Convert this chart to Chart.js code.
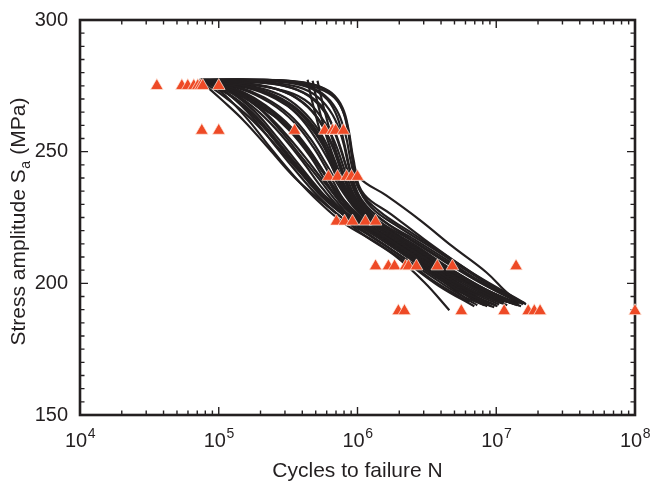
<!DOCTYPE html>
<html>
<head>
<meta charset="utf-8">
<script src="https://cdn.jsdelivr.net/npm/chart.js@4.4.0/dist/chart.umd.min.js"></script>
<style>
body{margin:0;background:#fff;}
#wrap{width:650px;height:486px;}
</style>
</head>
<body>
<div id="wrap"><canvas id="sn" width="650" height="486"></canvas></div>
<script>
/******************************** data ********************************/
// fatigue tests: stress levels (MPa) and cycles to failure at each level
const testStress = [275, 258, 240.5, 223.5, 206.5, 189.5];
const cycles275 = [3.58e4, 5.42e4, 5.98e4, 6.61e4, 7.06e4, 7.4e4, 7.67e4, 1.0e5];
const cycles258 = [7.55e4, 1.0e5, 3.52e5, 5.8e5, 6.61e5, 6.95e5, 7.92e5];
const cycles241 = [6.18e5, 7.18e5, 8.34e5, 9.06e5, 1.0e6];
const cycles224 = [7.05e5, 8.06e5, 9.2e5, 1.14e6, 1.35e6];
const cycles207 = [1.35e6, 1.67e6, 1.85e6, 2.22e6, 2.33e6, 2.66e6, 3.76e6, 4.83e6, 1.39e7];
const cycles190 = [1.97e6, 2.18e6, 5.6e6, 1.14e7, 1.70e7, 1.88e7, 2.07e7, 1.0e8];
const testCycles = [cycles275, cycles258, cycles241, cycles224, cycles207, cycles190];

// simulated S-N curves, [cycles, stress]
const curve01 = [[7.30e4,277.3],[1.67e5,277.3],[3.24e5,276.9],[4.90e5,275.4],[6.50e5,272.3],[7.80e5,266.7],[8.62e5,258.3],[9.36e5,247.0],[1.03e6,240.2],[1.62e6,233.3],[2.79e6,224.2],[4.83e6,214.0],[8.47e6,204.2],[1.24e7,195.8],[1.64e7,192.0]];
const curve02 = [[7.55e4,277.3],[1.67e5,276.9],[3.24e5,276.1],[4.67e5,273.9],[6.08e5,269.7],[7.18e5,262.9],[8.06e5,252.7],[9.05e5,241.3],[1.07e6,231.8],[1.56e6,223.5],[2.79e6,214.8],[4.99e6,206.4],[8.91e6,198.9],[1.51e7,192.4]];
const curve03 = [[7.80e4,276.9],[1.54e5,276.5],[2.98e5,275.0],[4.37e5,271.6],[5.79e5,265.9],[6.95e5,256.4],[8.20e5,245.1],[9.83e5,233.7],[1.39e6,224.2],[2.37e6,216.7],[4.23e6,208.3],[7.55e6,200.4],[1.35e7,193.6]];
const curve04 = [[7.93e4,276.9],[1.42e5,276.1],[2.53e5,273.9],[3.83e5,269.7],[5.15e5,262.9],[6.50e5,252.7],[7.80e5,241.3],[9.67e5,230.7],[1.44e6,222.3],[2.45e6,214.4],[4.37e6,206.1],[7.55e6,198.5],[1.24e7,193.2]];
const curve05 = [[8.06e4,276.5],[1.42e5,275.4],[2.33e5,272.3],[3.52e5,267.0],[4.90e5,259.1],[6.29e5,248.9],[7.93e5,237.5],[1.03e6,228.0],[1.62e6,219.7],[2.79e6,212.1],[4.99e6,203.8],[8.91e6,196.2],[1.42e7,191.7]];
const curve06 = [[8.20e4,276.5],[1.37e5,274.6],[2.14e5,270.5],[3.24e5,264.0],[4.52e5,255.3],[5.98e5,245.1],[7.80e5,234.8],[1.07e6,225.8],[1.76e6,217.8],[3.03e6,209.8],[5.42e6,201.5],[9.67e6,194.7],[1.46e7,191.7]];
const curve07 = [[8.33e4,276.1],[1.30e5,273.9],[1.97e5,268.6],[2.98e5,261.0],[4.16e5,251.9],[5.60e5,242.4],[7.42e5,232.6],[1.03e6,224.2],[1.70e6,216.7],[3.03e6,208.0],[5.42e6,199.6],[1.05e7,192.8]];
const curve08 = [[8.47e4,276.1],[1.30e5,273.1],[1.91e5,267.0],[2.75e5,258.3],[3.83e5,248.9],[5.33e5,239.4],[7.18e5,230.7],[1.00e6,222.7],[1.64e6,215.2],[2.89e6,206.4],[5.07e6,198.1],[8.91e6,192.4]];
const curve09 = [[8.62e4,275.8],[1.26e5,272.0],[1.82e5,265.2],[2.61e5,255.7],[3.64e5,246.2],[5.15e5,236.4],[7.18e5,228.0],[1.03e6,221.2],[1.76e6,212.9],[3.03e6,204.5],[5.42e6,195.8],[8.20e6,191.7]];
const curve10 = [[8.91e4,275.8],[1.24e5,270.8],[1.73e5,263.3],[2.45e5,253.4],[3.52e5,243.2],[5.15e5,233.3],[7.67e5,225.0],[1.18e6,218.6],[2.01e6,210.6],[3.41e6,201.5],[6.39e6,192.8]];
const curve11 = [[9.05e4,275.4],[1.20e5,269.7],[1.67e5,261.4],[2.41e5,250.8],[3.52e5,240.5],[5.33e5,230.7],[8.06e5,222.7],[1.33e6,215.9],[2.25e6,208.0],[3.89e6,198.9],[6.95e6,191.3]];
const curve12 = [[7.67e4,276.1],[1.05e5,269.7],[1.54e5,261.4],[2.33e5,250.8],[3.52e5,240.2],[5.33e5,231.8],[7.67e5,225.0],[1.12e6,218.2],[1.85e6,210.6],[3.03e6,200.4],[4.59e6,189.8]];
const curve13 = [[4.37e5,277.3],[4.59e5,271.6],[4.99e5,264.0],[5.60e5,254.5],[6.61e5,243.9],[8.20e5,233.7],[1.12e6,225.0],[1.85e6,216.7],[3.30e6,208.0],[5.89e6,199.6],[1.14e7,192.4]];
const curve14 = [[5.15e5,276.9],[5.42e5,271.6],[5.89e5,264.0],[6.61e5,254.5],[7.67e5,243.9],[9.20e5,233.7],[1.22e6,225.0],[2.01e6,217.4],[3.58e6,209.1],[6.39e6,200.8],[1.28e7,193.2]];
const curve15 = [[7.30e4,277.3],[1.82e5,277.3],[3.52e5,276.5],[5.15e5,274.2],[6.83e5,270.5],[8.06e5,264.0],[8.76e5,254.5],[9.51e5,243.2],[1.12e6,233.7],[1.76e6,226.1],[3.03e6,216.7],[5.42e6,207.2],[9.67e6,198.5],[1.56e7,192.0]];
const curve16 = [[8.06e4,276.9],[1.54e5,275.8],[2.75e5,273.5],[4.16e5,269.7],[5.51e5,262.9],[6.83e5,253.8],[8.06e5,243.2],[9.67e5,232.6],[1.33e6,223.5],[2.18e6,215.9],[3.89e6,207.2],[6.95e6,199.2],[1.28e7,192.4]];
const curve17 = [[8.62e4,276.5],[1.67e5,275.0],[2.75e5,271.6],[3.95e5,265.9],[5.33e5,257.6],[6.72e5,247.0],[8.20e5,236.4],[1.07e6,227.3],[1.70e6,219.3],[2.89e6,211.0],[5.15e6,202.7],[9.67e6,195.1],[1.51e7,191.3]];
const curve18 = [[8.20e4,276.9],[1.54e5,275.0],[2.53e5,270.8],[3.70e5,264.0],[5.07e5,254.5],[6.61e5,243.9],[8.47e5,233.3],[1.18e6,224.2],[1.94e6,216.3],[3.30e6,208.3],[5.89e6,200.4],[1.14e7,192.8]];
const curve19 = [[8.76e4,276.1],[1.42e5,272.7],[2.14e5,267.4],[3.08e5,259.8],[4.37e5,250.8],[5.89e5,240.9],[7.93e5,231.8],[1.14e6,223.5],[1.88e6,215.2],[3.30e6,206.8],[5.98e6,197.7],[1.05e7,192.0]];
const curve20 = [[8.47e4,276.1],[1.35e5,272.0],[2.04e5,265.9],[2.94e5,257.6],[4.16e5,248.1],[5.79e5,238.3],[8.06e5,229.2],[1.22e6,221.2],[2.07e6,213.3],[3.58e6,204.5],[6.39e6,195.8],[1.02e7,191.3]];
const curve21 = [[7.93e4,276.5],[1.20e5,271.6],[1.76e5,264.8],[2.53e5,255.3],[3.64e5,245.1],[5.33e5,234.8],[7.93e5,226.5],[1.22e6,219.7],[2.11e6,211.4],[3.70e6,202.7],[6.72e6,194.3],[9.67e6,190.9]];
const curve22 = [[8.91e4,275.8],[1.42e5,271.6],[2.14e5,265.9],[3.24e5,259.1],[4.52e5,250.0],[6.08e5,240.2],[8.20e5,230.3],[1.18e6,221.9],[2.01e6,214.4],[3.46e6,206.1],[6.19e6,197.7],[1.20e7,191.7]];
const curve23 = [[7.42e4,277.3],[1.97e5,277.3],[3.83e5,275.8],[5.51e5,272.3],[7.06e5,265.9],[8.20e5,256.4],[9.05e5,245.1],[1.03e6,235.6],[1.44e6,227.3],[2.37e6,219.7],[4.23e6,211.0],[7.55e6,202.3],[1.35e7,194.7],[1.62e7,192.4]];
const curve24 = [[7.67e4,276.9],[1.82e5,276.5],[3.35e5,274.2],[4.83e5,269.7],[6.29e5,262.1],[7.55e5,251.5],[8.76e5,240.2],[1.07e6,229.9],[1.56e6,221.9],[2.70e6,214.0],[4.75e6,205.3],[8.62e6,197.3],[1.46e7,192.0]];
const curve25 = [[7.80e4,276.9],[1.67e5,275.8],[2.98e5,272.7],[4.37e5,267.0],[5.69e5,259.1],[7.06e5,248.9],[8.47e5,237.5],[1.09e6,228.0],[1.64e6,220.5],[2.79e6,212.9],[4.99e6,204.5],[8.91e6,197.0],[1.42e7,192.4]];
const curve26 = [[8.06e4,276.5],[1.54e5,274.6],[2.66e5,270.5],[3.95e5,264.0],[5.33e5,255.3],[6.72e5,245.1],[8.33e5,234.5],[1.12e6,225.8],[1.82e6,218.2],[3.19e6,209.8],[5.60e6,201.5],[1.02e7,194.7],[1.37e7,192.0]];
const curve27 = [[8.20e4,276.5],[1.42e5,273.9],[2.33e5,268.6],[3.52e5,261.0],[4.83e5,251.5],[6.29e5,241.3],[8.06e5,231.4],[1.14e6,223.5],[1.88e6,215.9],[3.30e6,207.6],[5.89e6,198.9],[1.10e7,192.4]];
const curve28 = [[8.33e4,276.1],[1.37e5,272.7],[2.11e5,266.7],[3.19e5,258.3],[4.52e5,248.5],[5.98e5,238.3],[8.06e5,228.8],[1.18e6,221.9],[2.01e6,214.0],[3.46e6,205.3],[6.19e6,196.6],[1.00e7,191.7]];
const curve29 = [[8.47e4,276.1],[1.33e5,271.6],[1.97e5,264.8],[2.89e5,255.7],[4.09e5,245.8],[5.60e5,236.0],[7.93e5,227.3],[1.22e6,220.5],[2.11e6,212.1],[3.70e6,203.4],[6.72e6,194.7],[9.20e6,191.3]];
const curve30 = [[8.76e4,275.8],[1.28e5,270.5],[1.85e5,262.9],[2.66e5,253.0],[3.83e5,242.8],[5.51e5,233.0],[8.20e5,225.4],[1.30e6,218.6],[2.21e6,210.6],[3.89e6,201.5],[7.18e6,193.2],[8.62e6,191.3]];
const curve31 = [[7.30e4,277.3],[2.14e5,277.3],[4.16e5,276.1],[5.89e5,273.5],[7.42e5,268.2],[8.47e5,259.1],[9.20e5,247.7],[1.00e6,237.5],[1.26e6,228.8],[2.01e6,221.2],[3.58e6,212.9],[6.39e6,204.2],[1.14e7,196.2],[1.59e7,192.4]];
const curve32 = [[7.93e4,276.9],[2.04e5,276.5],[3.70e5,274.6],[5.15e5,270.8],[6.61e5,264.0],[7.80e5,254.5],[8.76e5,243.2],[1.03e6,232.6],[1.49e6,224.2],[2.57e6,216.7],[4.59e6,208.3],[8.20e6,199.6],[1.44e7,192.8]];
const curve33 = [[8.91e4,276.1],[1.62e5,274.2],[2.57e5,270.1],[3.70e5,264.4],[4.99e5,256.8],[6.39e5,247.0],[7.93e5,235.6],[1.03e6,226.9],[1.64e6,218.9],[2.89e6,210.6],[5.15e6,202.3],[9.20e6,195.5],[1.30e7,192.4]];
const curve34 = [[9.05e4,275.8],[1.49e5,272.7],[2.25e5,267.0],[3.30e5,259.5],[4.59e5,250.0],[6.08e5,239.8],[7.80e5,229.9],[1.10e6,222.7],[1.85e6,214.8],[3.19e6,206.1],[5.69e6,197.3],[7.55e6,192.8]];
const curve35 = [[4.75e5,276.9],[4.99e5,271.6],[5.42e5,264.0],[6.08e5,254.5],[7.18e5,243.9],[8.76e5,233.3],[1.18e6,224.6],[1.94e6,216.7],[3.46e6,208.3],[6.19e6,200.0],[1.20e7,192.8]];
const curve36 = [[9.20e4,275.4],[1.33e5,269.7],[1.88e5,262.1],[2.70e5,252.7],[3.89e5,242.8],[5.69e5,233.7],[8.47e5,226.5],[1.35e6,219.7],[2.29e6,212.1],[4.02e6,203.0],[7.30e6,194.7]];
const curve37 = [[7.80e4,276.5],[1.12e5,270.5],[1.64e5,263.3],[2.45e5,253.8],[3.70e5,243.2],[5.51e5,233.3],[8.33e5,226.1],[1.28e6,219.3],[2.18e6,211.7],[3.70e6,202.7],[6.19e6,193.9],[7.30e6,191.7]];
const simCurves = [curve01, curve02, curve03, curve04, curve05, curve06, curve07, curve08, curve09, curve10,
    curve11, curve12, curve13, curve14, curve15, curve16, curve17, curve18, curve19, curve20,
    curve21, curve22, curve23, curve24, curve25, curve26, curve27, curve28, curve29, curve30,
    curve31, curve32, curve33, curve34, curve35, curve36, curve37];

// axis ticks
const yTickValues = [150, 200, 250, 300];
const xTickExponents = [4, 5, 6, 7, 8];

/******************************** style ********************************/
const ink = '#231f20';
const marker = '#ee4a26';
const fontName = '"Liberation Sans", Arial, Helvetica, sans-serif';

/******************************** datasets ********************************/
let testPoints = [];
testStress.forEach((s, i) => {
    testCycles[i].forEach((n) => testPoints.push({x: n, y: s}));
});

let datasets = [{
    label: 'tests',
    data: testPoints,
    pointStyle: 'triangle',
    pointRadius: 7.3,
    backgroundColor: marker,
    borderColor: 'rgba(255,235,225,0.9)',
    borderWidth: 0.8,
    clip: false,
    order: 0
}];
simCurves.forEach((c, i) => {
    datasets.push({
        label: 'curve' + (i + 1),
        data: c.map((p) => ({x: p[0], y: p[1]})),
        showLine: true,
        borderColor: ink,
        borderWidth: 2.2,
        tension: 0.4,
        pointRadius: 0,
        order: 1
    });
});

/******************************** frame, ticks, labels ********************************/
const frame = {
    id: 'frame',
    beforeDatasetsDraw(chart) {
        const {ctx, chartArea: a, scales: {x, y}} = chart;
        ctx.save();
        ctx.strokeStyle = ink;
        ctx.lineWidth = 1.4;
        ctx.beginPath();
        for (let v = 150; v <= 300; v += 5) {
            const py = y.getPixelForValue(v);
            const len = v % 50 === 0 ? 8 : 4.5;
            ctx.moveTo(a.left, py); ctx.lineTo(a.left + len, py);
            ctx.moveTo(a.right, py); ctx.lineTo(a.right - len, py);
        }
        for (let d = 4; d <= 8; d++) {
            for (let m = 1; m <= 9; m++) {
                if (d === 8 && m > 1) break;
                const px = x.getPixelForValue(m * Math.pow(10, d));
                const len = m === 1 ? 8 : 4.5;
                ctx.moveTo(px, a.bottom); ctx.lineTo(px, a.bottom - len);
                ctx.moveTo(px, a.top); ctx.lineTo(px, a.top + len);
            }
        }
        ctx.stroke();
        ctx.lineWidth = 2.6;
        ctx.strokeRect(a.left, a.top, a.right - a.left, a.bottom - a.top);
        ctx.restore();
    },
    afterDraw(chart) {
        const {ctx, chartArea: a, scales: {x, y}} = chart;
        ctx.save();
        ctx.fillStyle = ink;
        // y tick labels
        ctx.font = '20px ' + fontName;
        ctx.textAlign = 'right';
        ctx.textBaseline = 'middle';
        yTickValues.forEach((v) => ctx.fillText(String(v), a.left - 12, y.getPixelForValue(v)));
        // x tick labels 10^n
        ctx.textAlign = 'left';
        ctx.textBaseline = 'alphabetic';
        xTickExponents.forEach((e) => {
            const px = x.getPixelForValue(Math.pow(10, e));
            ctx.font = '20px ' + fontName;
            const w1 = ctx.measureText('10').width;
            ctx.font = '14px ' + fontName;
            const w2 = ctx.measureText(String(e)).width;
            const left = px - (w1 + w2) / 2;
            ctx.font = '20px ' + fontName;
            ctx.fillText('10', left, a.bottom + 32);
            ctx.font = '14px ' + fontName;
            ctx.fillText(String(e), left + w1 + 0.5, a.bottom + 23);
        });
        // x title
        ctx.font = '21px ' + fontName;
        ctx.textAlign = 'center';
        ctx.fillText('Cycles to failure N', (a.left + a.right) / 2, a.bottom + 62);
        // y title with subscript
        ctx.translate(25, 222);
        ctx.rotate(-Math.PI / 2);
        ctx.textAlign = 'left';
        const t1 = 'Stress amplitude S', t2 = 'a', t3 = ' (MPa)';
        ctx.font = '21px ' + fontName;
        const w1 = ctx.measureText(t1).width, w3 = ctx.measureText(t3).width;
        ctx.font = '14px ' + fontName;
        const w2 = ctx.measureText(t2).width;
        let start = -(w1 + w2 + w3) / 2;
        ctx.font = '21px ' + fontName;
        ctx.fillText(t1, start, 0);
        ctx.font = '14px ' + fontName;
        ctx.fillText(t2, start + w1 + 0.5, 5);
        ctx.font = '21px ' + fontName;
        ctx.fillText(t3, start + w1 + w2 + 1, 0);
        ctx.restore();
    }
};

/******************************** chart ********************************/
new Chart(document.getElementById('sn'), {
    type: 'scatter',
    data: {datasets: datasets},
    options: {
        responsive: false,
        animation: false,
        events: [],
        layout: {padding: {left: 80, right: 15, top: 20, bottom: 71}, autoPadding: false},
        plugins: {legend: {display: false}, tooltip: {enabled: false}},
        scales: {
            x: {type: 'logarithmic', min: 1e4, max: 1e8, display: false},
            y: {type: 'linear', min: 150, max: 300, display: false}
        }
    },
    plugins: [frame]
});
</script>
</body>
</html>
